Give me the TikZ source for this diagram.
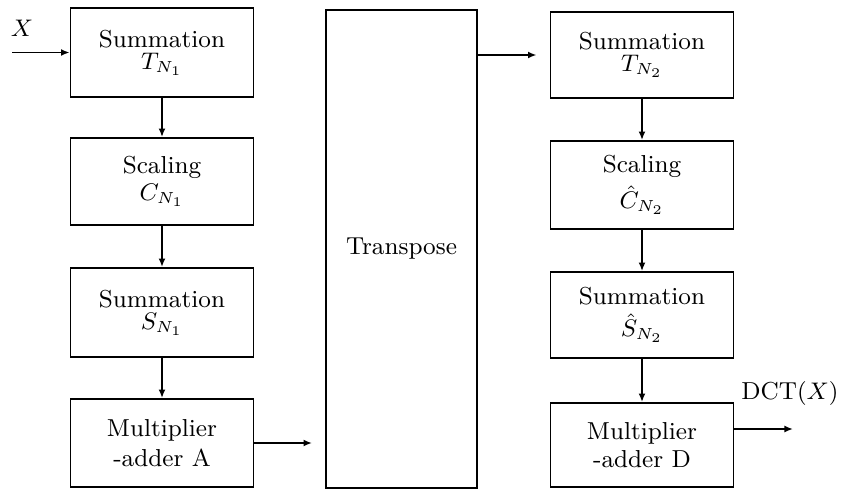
\documentclass[tikz,border=0pt]{standalone}
\usetikzlibrary{arrows.meta}
\begin{document}
\begin{tikzpicture}[x=0.375pt,y=-0.375pt,
  blk/.style={draw,line width=0.7pt,minimum width=68.6pt,inner sep=0pt,align=center,
    font=\fontsize{9.2}{7.2}\selectfont},
  arr/.style={line width=0.7pt,-{Latex[length=3.2pt,width=2.6pt]}},
  lbl/.style={font=\fontsize{9.2}{11}\selectfont,inner sep=0pt}]
\useasboundingbox (0,0) rectangle (856,489);
% left column
\node[blk,minimum height=33.4pt] (s1) at (162,52.5) {Summation\\[1.2pt] $T_{N_1}$};
\node[blk,minimum height=32.6pt] (s2) at (162,181.5) {Scaling\\[1.2pt] $C_{N_1}$};
\node[blk,minimum height=33.4pt] (s3) at (162,312.5) {Summation\\[1.2pt] $S_{N_1}$};
\node[blk,minimum height=33pt] (s4) at (162,443) {Multiplier\\[1.6pt] -adder A};
% transpose
\node[blk,minimum width=56.6pt,minimum height=179.2pt] (tr) at (401.5,249) {Transpose};
% right column
\node[blk,minimum height=32.2pt] (r1) at (642,55) {Summation\\[1.2pt] $T_{N_2}$};
\node[blk,minimum height=33pt] (r2) at (642,185) {Scaling\\[2.2pt] $\hat{C}_{N_2}$};
\node[blk,minimum height=32.2pt] (r3) at (642,315) {Summation\\[2.2pt] $\hat{S}_{N_2}$};
\node[blk,minimum height=31.5pt] (r4) at (642,445) {Multiplier\\[1.6pt] -adder D};
% labels
\coordinate (xin) at (12,52.5);
\node[lbl,anchor=base] (xl) at (22,37) {$X$};
\coordinate (out) at (793,429);
\node[lbl,anchor=base] (dl) at (790,399) {DCT$(X)$};
% connectors
\draw[arr] (xin) -- (s1.west);
\draw[arr] (s1) -- (s2);
\draw[arr] (s2) -- (s3);
\draw[arr] (s3) -- (s4);
\draw[arr,shorten >=4.9pt] (s4.east) -- (s4.east -| tr.west);
\draw[arr,shorten >=4.9pt] (tr.east |- r1.west) -- (r1.west);
\draw[arr] (r1) -- (r2);
\draw[arr] (r2) -- (r3);
\draw[arr] (r3) -- (r4);
\draw[arr] (r4.east |- out) -- (out);
\end{tikzpicture}
\end{document}
